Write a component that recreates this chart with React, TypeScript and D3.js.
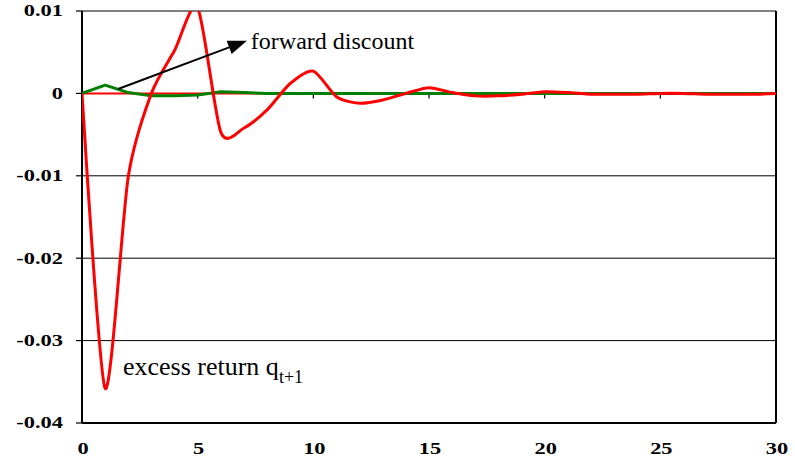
import { useEffect } from 'react';
import * as d3 from 'd3';

// horizon (quarters) 0..30
const periods = d3.range(0, 31);

// excess return q_{t+1} response
const excessReturn = [
  0, -0.0358, -0.0101, 0.0, 0.0052, 0.0104, -0.0047, -0.0042, -0.002, 0.0012,
  0.0027, -0.0004, -0.0012, -0.0008, 0.0, 0.0007, 0.0001, -0.0003, -0.0003, -0.0001,
  0.0002, 0.0001, -0.0001, -0.0001, -0.0001, 0.0, 0.0, -0.0001, -0.0001, -0.0001,
  0.0,
];

// forward discount response
const forwardDiscount = [
  0, 0.001, 0.0001, -0.0003, -0.0003, -0.0002, 0.0002, 0.0001, 0.0, 0.0,
  0, 0, 0, 0, 0, 0, 0, 0, 0, 0,
  0, 0, 0, 0, 0, 0, 0, 0, 0, 0,
  0,
];

const yTicks = [0.01, 0, -0.01, -0.02, -0.03, -0.04];
const xTicks = [0, 5, 10, 15, 20, 25, 30];

const width = 795;
const height = 461;
const margin = { top: 11, right: 19, bottom: 38, left: 82 };

export default function App() {
  useEffect(() => {
    document.body.style.margin = '0';
  }, []);

  const innerW = width - margin.left - margin.right;
  const innerH = height - margin.top - margin.bottom;

  const x = d3.scaleLinear().domain([0, 30]).range([0, innerW]);
  const y = d3.scaleLinear().domain([-0.04, 0.01]).range([innerH, 0]);

  const smooth = d3
    .line<number>()
    .x((_, i) => x(periods[i]))
    .y((d) => y(d))
    .curve(d3.curveCardinal.tension(0.25));

  const straight = d3
    .line<number>()
    .x((_, i) => x(periods[i]))
    .y((d) => y(d));

  // plain hyphen minus, like the original
  const fmt = (v: number) => (v === 0 ? '0' : v.toFixed(2));
  const serif = { fontFamily: '"Liberation Serif", serif' };
  const stretch = 1.4; // tick labels are drawn wide in the original

  // annotation arrow (data coordinates)
  const arrowFrom: [number, number] = [1.56, 0.00053];
  const arrowTo: [number, number] = [7.13, 0.0064];
  const ax0 = x(arrowFrom[0]);
  const ay0 = y(arrowFrom[1]);
  const ax1 = x(arrowTo[0]);
  const ay1 = y(arrowTo[1]);
  const ang = Math.atan2(ay1 - ay0, ax1 - ax0);
  const headLen = 19;
  const headW = 7;
  const bx = ax1 - headLen * Math.cos(ang);
  const by = ay1 - headLen * Math.sin(ang);
  const head = [
    [ax1, ay1],
    [bx + headW * Math.sin(ang), by - headW * Math.cos(ang)],
    [bx - headW * Math.sin(ang), by + headW * Math.cos(ang)],
  ]
    .map((p) => p.join(','))
    .join(' ');

  return (
    <svg width={width} height={height} style={{ display: 'block', background: '#fff' }}>
      <defs>
        <clipPath id="plot-clip">
          <rect x={0} y={0} width={innerW} height={innerH} />
        </clipPath>
      </defs>
      <g transform={`translate(${margin.left},${margin.top})`}>
        {/* gridlines */}
        {yTicks
          .filter((t) => t !== 0)
          .map((t) => (
            <line key={t} x1={0} x2={innerW} y1={y(t)} y2={y(t)} stroke="#000" strokeWidth={1} />
          ))}

        {/* frame */}
        <line x1={innerW} x2={innerW} y1={0} y2={innerH} stroke="#000" strokeWidth={2} />
        <line x1={0} x2={innerW} y1={innerH} y2={innerH} stroke="#000" strokeWidth={2} />
        <line x1={0} x2={0} y1={0} y2={innerH} stroke="#000" strokeWidth={2} />

        {/* y ticks and labels */}
        {yTicks.map((t) => (
          <g key={t} transform={`translate(0,${y(t)})`}>
            <line x1={-6} x2={0} stroke="#000" strokeWidth={1.2} />
            <text
              transform={`translate(-19,0) scale(${stretch},1)`}
              dy="0.34em"
              textAnchor="end"
              style={serif}
              fontWeight="bold"
              fontSize={16}
            >
              {fmt(t)}
            </text>
          </g>
        ))}

        {/* x ticks on the zero line, labels below */}
        {xTicks.map((t) => (
          <g key={t}>
            <line x1={x(t)} x2={x(t)} y1={y(0)} y2={y(0) + 5} stroke="#000" strokeWidth={1.2} />
            <text
              transform={`translate(${x(t) + 1},${innerH + 26}) scale(${stretch},1)`}
              dy="0.34em"
              textAnchor="middle"
              style={serif}
              fontWeight="bold"
              fontSize={16}
            >
              {t}
            </text>
          </g>
        ))}

        {/* zero axis */}
        <line x1={0} x2={innerW} y1={y(0)} y2={y(0)} stroke="#ff0000" strokeWidth={2} />

        {/* series */}
        <g clipPath="url(#plot-clip)">
          <path d={straight(forwardDiscount) ?? ''} fill="none" stroke="#008000" strokeWidth={3} strokeLinejoin="round" />
          <path d={smooth(excessReturn) ?? ''} fill="none" stroke="#ff0000" strokeWidth={3} strokeLinejoin="round" />
        </g>

        {/* annotations */}
        <line x1={ax0} y1={ay0} x2={bx} y2={by} stroke="#000" strokeWidth={2} />
        <polygon points={head} fill="#000" />
        <text x={x(7.3)} y={y(0.0054)} style={serif} fontSize={24}>
          forward discount
        </text>
        <text x={x(1.77)} y={y(-0.0342)} style={serif} fontSize={26}>
          excess return q
          <tspan fontSize={18} dy={8}>
            t+1
          </tspan>
        </text>
      </g>
    </svg>
  );
}
